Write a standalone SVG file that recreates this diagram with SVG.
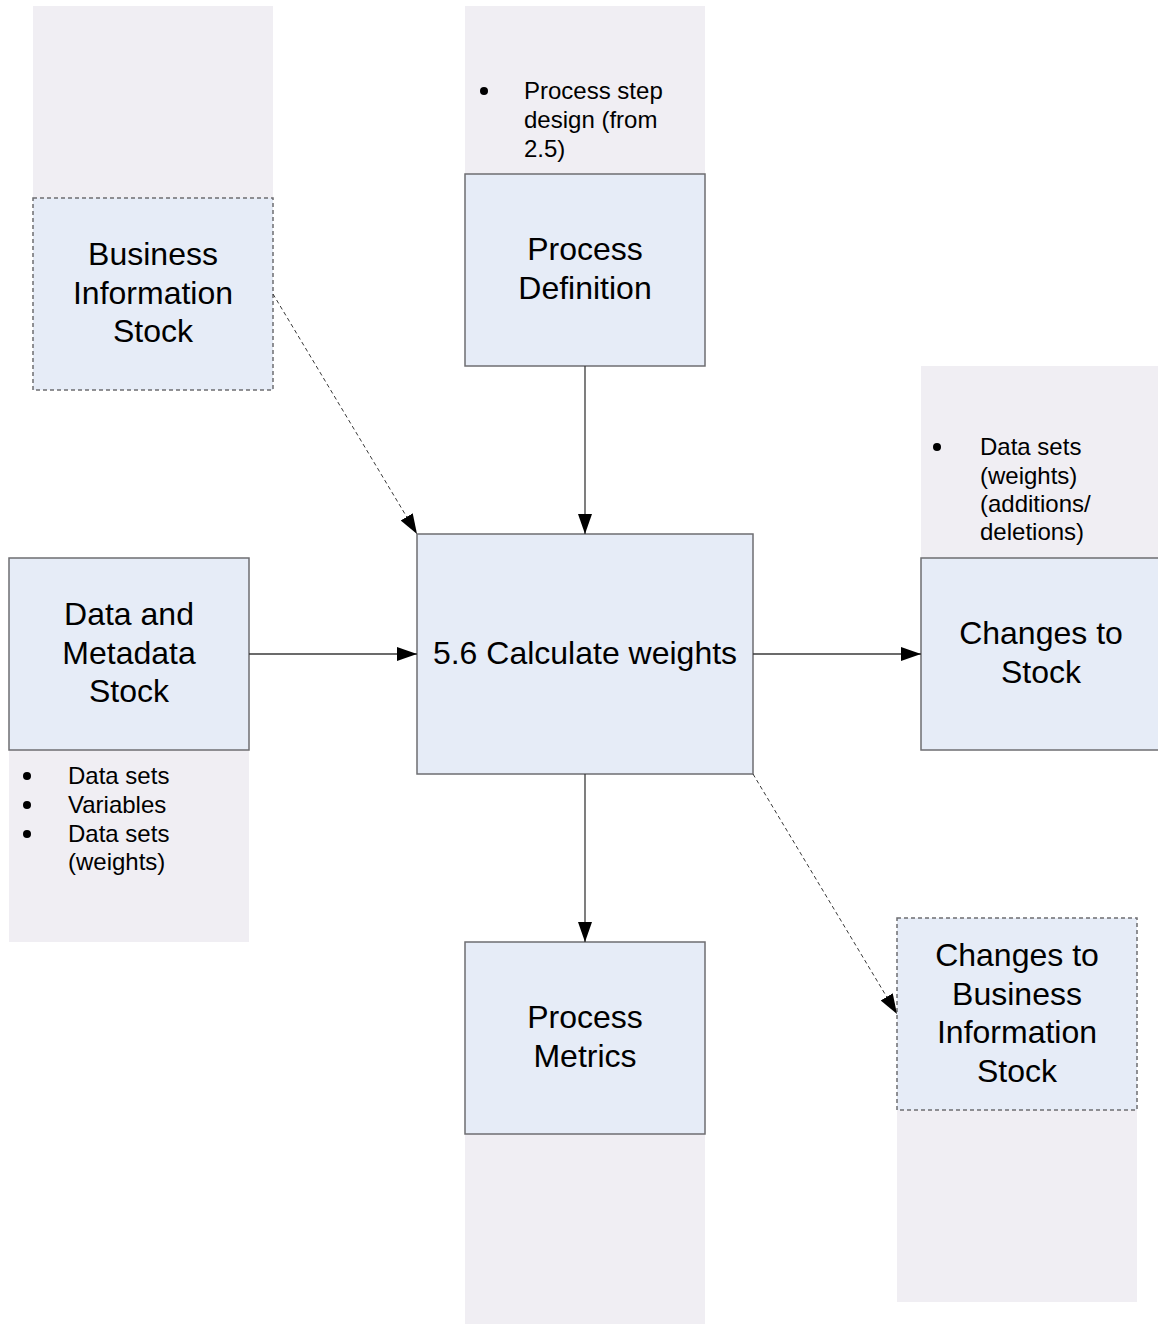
<svg xmlns="http://www.w3.org/2000/svg" width="1158" height="1324" viewBox="0 0 1158 1324">
<style>
.panel{fill:#f0eef3;stroke:none}
.box{fill:#e6ecf7;stroke:#6e6e72;stroke-width:1.5}
.dbox{fill:#e6ecf7;stroke:#6e6e72;stroke-width:1.5;stroke-dasharray:4 3}
.lbl{font-family:"Liberation Sans",Arial,sans-serif;font-size:32px;fill:#000;text-anchor:middle}
.bul{font-family:"Liberation Sans",Arial,sans-serif;font-size:24px;fill:#000}
.dot{fill:#000}
.conn{stroke:#3a3a3a;stroke-width:1.3;fill:none}
.dash{stroke:#3a3a3a;stroke-width:1;fill:none;stroke-dasharray:4 3}
</style>
<defs>
<marker id="arr" markerUnits="userSpaceOnUse" markerWidth="22" markerHeight="16" refX="20" refY="7" orient="auto">
<path d="M0,0 L20,7 L0,14 z" fill="#000"/>
</marker>
</defs>
<rect width="1158" height="1324" fill="#fff"/>

<g id="business-information-stock">
<rect class="panel" x="33" y="6" width="240" height="192"/>
<rect class="dbox" x="33" y="198" width="240" height="192"/>
<text class="lbl" x="153" y="265">Business</text>
<text class="lbl" x="153" y="304">Information</text>
<text class="lbl" x="153" y="342">Stock</text>
</g>

<g id="process-definition">
<rect class="panel" x="465" y="6" width="240" height="168"/>
<circle class="dot" cx="484" cy="91" r="4"/>
<text class="bul" x="524" y="99">Process step</text>
<text class="bul" x="524" y="128">design (from</text>
<text class="bul" x="524" y="157">2.5)</text>
<rect class="box" x="465" y="174" width="240" height="192"/>
<text class="lbl" x="585" y="260">Process</text>
<text class="lbl" x="585" y="299">Definition</text>
</g>

<g id="changes-to-stock">
<rect class="panel" x="921" y="366" width="240" height="192"/>
<circle class="dot" cx="937" cy="447" r="4"/>
<text class="bul" x="980" y="455">Data sets</text>
<text class="bul" x="980" y="484">(weights)</text>
<text class="bul" x="980" y="512">(additions/</text>
<text class="bul" x="980" y="540">deletions)</text>
<rect class="box" x="921" y="558" width="240" height="192"/>
<text class="lbl" x="1041" y="644">Changes to</text>
<text class="lbl" x="1041" y="683">Stock</text>
</g>

<g id="data-and-metadata-stock">
<rect class="panel" x="9" y="750" width="240" height="192"/>
<rect class="box" x="9" y="558" width="240" height="192"/>
<text class="lbl" x="129" y="625">Data and</text>
<text class="lbl" x="129" y="664">Metadata</text>
<text class="lbl" x="129" y="702">Stock</text>
<circle class="dot" cx="27" cy="776" r="4"/>
<text class="bul" x="68" y="784">Data sets</text>
<circle class="dot" cx="27" cy="805" r="4"/>
<text class="bul" x="68" y="813">Variables</text>
<circle class="dot" cx="27" cy="834" r="4"/>
<text class="bul" x="68" y="842">Data sets</text>
<text class="bul" x="68" y="870">(weights)</text>
</g>

<g id="calculate-weights">
<rect class="box" x="417" y="534" width="336" height="240"/>
<text class="lbl" x="585" y="664">5.6 Calculate weights</text>
</g>

<g id="process-metrics">
<rect class="panel" x="465" y="1134" width="240" height="192"/>
<rect class="box" x="465" y="942" width="240" height="192"/>
<text class="lbl" x="585" y="1028">Process</text>
<text class="lbl" x="585" y="1067">Metrics</text>
</g>

<g id="changes-to-business-information-stock">
<rect class="panel" x="897" y="1110" width="240" height="192"/>
<rect class="dbox" x="897" y="918" width="240" height="192"/>
<text class="lbl" x="1017" y="966">Changes to</text>
<text class="lbl" x="1017" y="1005">Business</text>
<text class="lbl" x="1017" y="1043">Information</text>
<text class="lbl" x="1017" y="1082">Stock</text>
</g>

<g id="connectors">
<line class="dash" x1="273" y1="294" x2="417" y2="534" marker-end="url(#arr)"/>
<line class="conn" x1="585" y1="366" x2="585" y2="534" marker-end="url(#arr)"/>
<line class="conn" x1="249" y1="654" x2="417" y2="654" marker-end="url(#arr)"/>
<line class="conn" x1="753" y1="654" x2="921" y2="654" marker-end="url(#arr)"/>
<line class="conn" x1="585" y1="774" x2="585" y2="942" marker-end="url(#arr)"/>
<line class="dash" x1="753" y1="774" x2="897" y2="1014" marker-end="url(#arr)"/>
</g>
</svg>
